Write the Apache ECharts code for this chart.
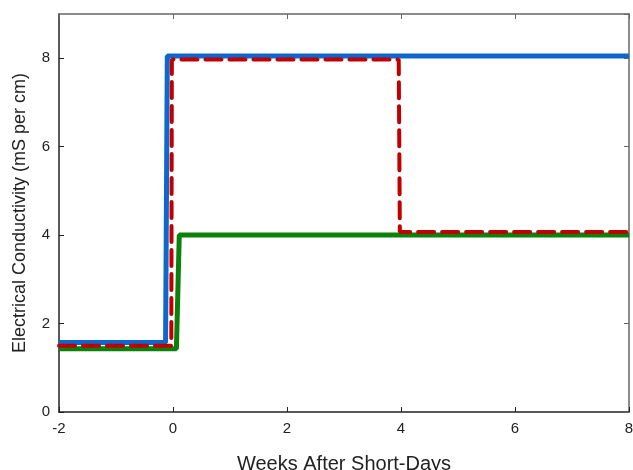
<!DOCTYPE html>
<html>
<head>
<meta charset="utf-8">
<script src="https://cdn.jsdelivr.net/npm/echarts@6/dist/echarts.min.js"></script>
<style>html,body{margin:0;padding:0;background:#fff}#c{width:633px;height:470px}</style>
</head>
<body>
<div id="c"></div>
<script>
const xTicks = [-2, 0, 2, 4, 6, 8];
const yTicks = [0, 2, 4, 6, 8];
const blueSeries = [[-2, 1.57], [-0.13, 1.57], [-0.1, 8.05], [8, 8.05]];
const redSeries = [[-2, 1.5], [-0.03, 1.5], [-0.02, 7.97], [3.96, 7.97], [3.98, 4.07], [8, 4.07]];
const greenSeries = [[-2, 1.43], [0.06, 1.43], [0.11, 4.0], [8, 4.0]];

const chart = echarts.init(document.getElementById('c'));
const font = 'Liberation Sans, Arial, sans-serif';
chart.setOption({
  animation: false,
  backgroundColor: '#fff',
  grid: { left: 59, right: 4, top: 14, bottom: 58, containLabel: false, outerBoundsMode: 'none' },
  xAxis: [{
    type: 'value', min: -2, max: 8, interval: 2,
    name: 'Weeks After Short-Days', nameLocation: 'middle', nameGap: 42,
    nameTextStyle: { fontFamily: font, fontSize: 20, color: '#222' },
    axisLine: { onZero: false, lineStyle: { color: '#222', width: 1.5 } },
    axisTick: { inside: true, length: 5, lineStyle: { color: '#222' } },
    axisLabel: { fontFamily: font, fontSize: 15, color: '#222', margin: 9,
      formatter: v => (xTicks.indexOf(v) >= 0 ? String(v) : '') },
    splitLine: { show: false }
  }, {
    type: 'value', min: -2, max: 8, interval: 2, position: 'top',
    axisLine: { show: true, onZero: false, lineStyle: { color: '#666', width: 1.5 } },
    axisTick: { inside: true, length: 5, lineStyle: { color: '#666' } },
    axisLabel: { show: false }, splitLine: { show: false }
  }],
  yAxis: [{
    type: 'value', min: 0, max: 9, interval: 2,
    name: 'Electrical Conductivity (mS per cm)', nameLocation: 'middle', nameGap: 30,
    nameTextStyle: { fontFamily: font, fontSize: 18, color: '#222' },
    axisLine: { show: true, onZero: false, lineStyle: { color: '#222', width: 1.5 } },
    axisTick: { show: true, inside: true, length: 5, lineStyle: { color: '#222' } },
    axisLabel: { fontFamily: font, fontSize: 15, color: '#222', margin: 9, showMaxLabel: false,
      formatter: v => (yTicks.indexOf(v) >= 0 ? String(v) : '') },
    splitLine: { show: false }
  }, {
    type: 'value', min: 0, max: 9, interval: 2, position: 'right',
    axisLine: { show: true, onZero: false, lineStyle: { color: '#666', width: 1.5 } },
    axisTick: { show: true, inside: true, length: 5, lineStyle: { color: '#666' } },
    axisLabel: { show: false }, splitLine: { show: false }
  }],
  series: [
    { type: 'line', data: blueSeries, symbol: 'none', z: 2,
      lineStyle: { color: '#0F66CC', width: 5 } },
    { type: 'line', data: greenSeries, symbol: 'none', z: 3,
      lineStyle: { color: '#0B800B', width: 5 } },
    { type: 'line', data: redSeries, symbol: 'none', z: 4,
      lineStyle: { color: '#C00000', width: 4, type: [16, 8], cap: 'round' } }
  ]
});
</script>
</body>
</html>
